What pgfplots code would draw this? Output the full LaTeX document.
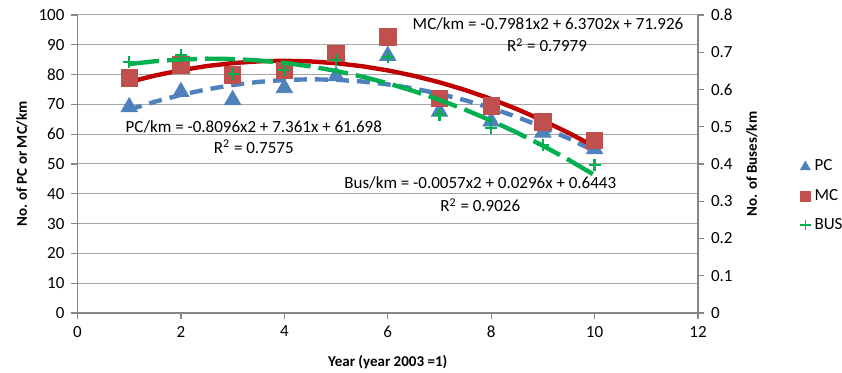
\documentclass[border=0pt]{standalone}
\usepackage{fontspec}
\setmainfont{Carlito}
\usepackage{pgfplots}
\pgfplotsset{compat=1.18}
\definecolor{pcblue}{HTML}{4F81BD}
\definecolor{mcred}{HTML}{C0504D}
\definecolor{busgreen}{HTML}{00B050}
\definecolor{trendred}{HTML}{C00000}
\definecolor{gridgray}{HTML}{A6A6A6}
\definecolor{axisgray}{HTML}{868686}
\begin{document}
\begin{tikzpicture}
\pgfplotsset{
  every axis/.append style={
    scale only axis, width=310.25pt, height=149pt, xmin=0, xmax=12,
    /pgf/number format/assume math mode=true,
    tick label style={font=\fontsize{8.5}{10}\selectfont, text=black},
    label style={font=\bfseries\fontsize{7.5}{9}\selectfont},
    axis line style={-, axisgray, line width=0.6pt},
    tick style={axisgray, line width=0.6pt},
    tick align=outside, major tick length=3pt,
    clip=false,
  }
}
\begin{axis}[name=ax, ymin=0, ymax=100, ytick={0,10,...,100}, xtick={0,2,...,12},
  axis x line*=bottom, axis y line*=left, ymajorgrids,
  grid style={gridgray, line width=0.5pt},
  xlabel={Year (year 2003 =1)}, ylabel={No. of PC or MC/km},
  xlabel style={at={(axis description cs:0.5,-0.1644)}, anchor=center},
  ylabel style={at={(axis description cs:-0.0894,0.5)}, anchor=center},
  ]
\addplot[only marks, mark=triangle*, mark size=4.7pt, color=pcblue] coordinates {
 (1,69.1) (2,74.2) (3,71.5) (4,75.5) (5,79.5) (6,86.3) (7,67.6) (8,64.3) (9,60.6) (10,55.0)};
\addplot[only marks, mark=square*, mark size=4.1pt, color=mcred] coordinates {
 (1,78.9) (2,83.2) (3,79.9) (4,81.5) (5,87.2) (6,92.6) (7,72.1) (8,69.5) (9,64.1) (10,58.0)};
% PC trendline: -0.8096x^2 + 7.361x + 61.698
\addplot[pcblue, line width=2.2pt, dash pattern=on 6.5pt off 4pt] coordinates {
 (1,68.249) (1.5,70.918) (2,73.182) (2.5,75.040) (3,76.495) (3.5,77.544) (4,78.188)
 (4.5,78.428) (5,78.263) (5.5,77.693) (6,76.718) (6.5,75.339) (7,73.555) (7.5,71.366)
 (8,68.772) (8.5,65.773) (9,62.369) (9.5,58.561) (10,54.348)};
% MC trendline: -0.7981x^2 + 6.3702x + 71.926
\addplot[trendred, line width=2.2pt] coordinates {
 (1,77.498) (1.5,79.686) (2,81.474) (2.5,82.863) (3,83.854) (3.5,84.445) (4,84.637)
 (4.5,84.430) (5,83.825) (5.5,82.820) (6,81.416) (6.5,79.613) (7,77.411) (7.5,74.809)
 (8,71.809) (8.5,68.410) (9,64.612) (9.5,60.414) (10,55.818)};
\node[font=\fontsize{8.5}{10}\selectfont] at (axis cs:9.1,97.0) {MC/km = -0.7981x2 + 6.3702x + 71.926};
\node[font=\fontsize{8.5}{10}\selectfont] at (axis cs:9.08,89.9) {R\textsuperscript{2} = 0.7979};
\node[font=\fontsize{8.5}{10}\selectfont] at (axis cs:3.41,62.4) {PC/km = -0.8096x2 + 7.361x + 61.698};
\node[font=\fontsize{8.5}{10}\selectfont] at (axis cs:3.41,55.7) {R\textsuperscript{2} = 0.7575};
\node[font=\fontsize{8.5}{10}\selectfont] at (axis cs:7.79,43.6) {Bus/km = -0.0057x2 + 0.0296x + 0.6443};
\node[font=\fontsize{8.5}{10}\selectfont] at (axis cs:7.79,36.2) {R\textsuperscript{2} = 0.9026};
\end{axis}
\begin{axis}[ymin=0, ymax=0.8, ytick={0,0.1,0.2,0.3,0.4,0.5,0.6,0.7,0.8},
  axis y line*=right, axis x line=none,
  yticklabel style={/pgf/number format/fixed, /pgf/number format/precision=1},
  ylabel={No. of Buses/km},
  ylabel style={at={(axis description cs:1.087,0.5)}, anchor=center},
  legend style={draw=none, fill=none, at={(axis description cs:1.164,0.3926)}, anchor=west,
    font=\fontsize{8.5}{10}\selectfont, row sep=3.5pt, inner sep=0pt},
  legend cell align=left,
  legend image code/.code={\draw[mark repeat=2,mark phase=2,#1] plot coordinates {(0cm,0cm)(0.1cm,0cm)(0.2cm,0cm)};},
  ]
\addplot[only marks, mark=+, mark size=3pt, line width=1.2pt, color=busgreen, forget plot] coordinates {
 (1,0.674) (2,0.693) (3,0.642) (4,0.652) (5,0.679) (6,0.687) (7,0.531) (8,0.496) (9,0.451) (10,0.397)};
% Bus trendline: -0.0057x^2 + 0.0296x + 0.6443
\addplot[busgreen, line width=2.2pt, dash pattern=on 15pt off 4pt, forget plot] coordinates {
 (1,0.6682) (1.5,0.6759) (2,0.6807) (2.5,0.6827) (3,0.6818) (3.5,0.6781) (4,0.6715)
 (4.5,0.6621) (5,0.6498) (5.5,0.6347) (6,0.6167) (6.5,0.5959) (7,0.5722) (7.5,0.5457)
 (8,0.5163) (8.5,0.4841) (9,0.4490) (9.5,0.4111) (10,0.3703)};
\addlegendimage{only marks, mark=triangle*, mark size=2.8pt, color=pcblue}
\addlegendentry{PC}
\addlegendimage{only marks, mark=square*, mark size=2.5pt, color=mcred}
\addlegendentry{MC}
\addlegendimage{only marks, mark=+, mark size=2.6pt, line width=0.7pt, color=busgreen}
\addlegendentry{BUS}
\end{axis}
\pgfresetboundingbox
\path[use as bounding box] ([shift={(-38.75pt,-30pt)}]ax.south west) rectangle ([shift={(72pt,7.5pt)}]ax.north east);
\end{tikzpicture}
\end{document}
